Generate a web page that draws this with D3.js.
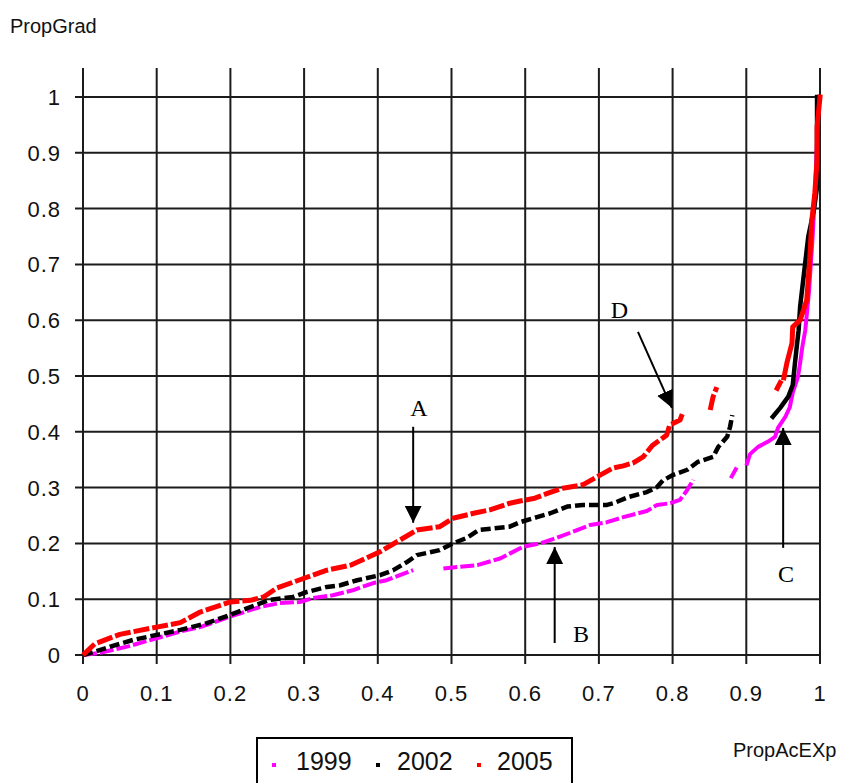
<!DOCTYPE html>
<html>
<head>
<meta charset="utf-8">
<script src="https://cdn.jsdelivr.net/npm/d3@7"></script>
<style>
  html, body { margin: 0; padding: 0; background: #fff; }
  svg { display: block; }
</style>
</head>
<body>
<svg id="chart" width="846" height="783"></svg>
<script>
// ---- Data ----
const xTicks = [0, 0.1, 0.2, 0.3, 0.4, 0.5, 0.6, 0.7, 0.8, 0.9, 1];
const yTicks = [0, 0.1, 0.2, 0.3, 0.4, 0.5, 0.6, 0.7, 0.8, 0.9, 1];
const xTickLabels = ["0", "0.1", "0.2", "0.3", "0.4", "0.5", "0.6", "0.7", "0.8", "0.9", "1"];
const yTickLabels = ["0", "0.1", "0.2", "0.3", "0.4", "0.5", "0.6", "0.7", "0.8", "0.9", "1"];
const seriesNames = ["1999", "2002", "2005"];
const seriesColors = ["#ff00ff", "#000000", "#ff0000"];

// null = gap in the plotted points
const s1999 = [[0,0],[0.023,0.004],[0.06,0.015],[0.1,0.03],[0.132,0.042],[0.159,0.05],[0.2,0.069],[0.24,0.086],[0.267,0.093],[0.294,0.095],[0.312,0.102],[0.339,0.107],[0.366,0.116],[0.394,0.129],[0.412,0.134],[0.43,0.143],[0.448,0.152],null,[0.489,0.155],[0.511,0.158],[0.535,0.161],[0.566,0.173],[0.597,0.194],[0.62,0.2],[0.643,0.21],[0.665,0.221],[0.688,0.233],[0.711,0.238],[0.733,0.247],[0.765,0.258],[0.779,0.269],[0.797,0.272],[0.81,0.278],[0.82,0.296],[0.828,0.314],null,[0.879,0.317],[0.887,0.336],[0.901,0.343],[0.905,0.36],[0.916,0.373],[0.929,0.382],[0.939,0.391],[0.943,0.407],[0.953,0.427],[0.959,0.444],[0.963,0.47],[0.97,0.498],[0.973,0.523],[0.976,0.552],[0.98,0.582],[0.985,0.65],[0.99,0.75],[0.994,0.85],[0.997,0.959],[0.998,1.0]];
const s2002 = [[0,0],[0.014,0.005],[0.037,0.015],[0.068,0.027],[0.1,0.036],[0.132,0.045],[0.168,0.057],[0.2,0.072],[0.227,0.086],[0.254,0.099],[0.285,0.104],[0.304,0.113],[0.331,0.122],[0.349,0.125],[0.372,0.134],[0.403,0.143],[0.421,0.152],[0.44,0.167],[0.453,0.179],[0.467,0.183],[0.484,0.188],[0.502,0.2],[0.521,0.21],[0.537,0.224],[0.579,0.23],[0.593,0.238],[0.616,0.247],[0.634,0.254],[0.657,0.266],[0.678,0.269],[0.711,0.269],[0.72,0.272],[0.74,0.283],[0.765,0.292],[0.779,0.301],[0.787,0.313],[0.801,0.323],[0.82,0.332],[0.834,0.346],[0.855,0.355],[0.862,0.373],[0.874,0.391],[0.878,0.409],[0.881,0.43],null,[0.936,0.427],[0.946,0.443],[0.957,0.463],[0.963,0.484],[0.966,0.523],[0.969,0.559],[0.971,0.582],[0.973,0.624],[0.984,0.749],[0.992,0.8],[0.996,0.839],[0.996,1.0]];
const s2005 = [[0,0],[0.016,0.02],[0.05,0.037],[0.1,0.05],[0.132,0.058],[0.159,0.077],[0.2,0.095],[0.227,0.098],[0.245,0.104],[0.263,0.12],[0.301,0.138],[0.331,0.152],[0.363,0.161],[0.403,0.185],[0.43,0.206],[0.453,0.224],[0.484,0.23],[0.502,0.245],[0.53,0.254],[0.552,0.26],[0.579,0.272],[0.593,0.276],[0.613,0.281],[0.631,0.29],[0.651,0.299],[0.678,0.305],[0.697,0.319],[0.719,0.335],[0.733,0.339],[0.746,0.344],[0.76,0.355],[0.773,0.376],[0.792,0.394],[0.796,0.412],[0.81,0.421],[0.814,0.435],null,[0.851,0.439],[0.855,0.463],[0.86,0.48],null,[0.942,0.478],[0.946,0.488],null,[0.951,0.497],[0.955,0.523],[0.962,0.559],[0.963,0.588],[0.973,0.6],[0.982,0.636],[0.986,0.708],[0.989,0.78],[0.993,0.828],[0.996,0.887],[0.996,0.946],[1.0,1.0]];

// annotations: label, label position, arrow tail, arrow tip (data coords)
const annLabels = ["A", "B", "C", "D"];
const annLabelPos = [[0.444,0.428],[0.665,0.023],[0.943,0.131],[0.716,0.604]];
const annTail = [[0.448,0.409],[0.640,0.0215],[0.950,0.192],[0.753,0.579]];
const annTip  = [[0.448,0.237],[0.640,0.1935],[0.950,0.407],[0.799,0.443]];

// ---- Layout ----
const svg = d3.select("#chart");
const x = d3.scaleLinear().domain([0, 1]).range([83, 820]);
const y = d3.scaleLinear().domain([0, 1.052]).range([655, 68]);
const sans = "'Liberation Sans', Arial, sans-serif";
const serif = "'Liberation Serif', 'Times New Roman', serif";
const gridColor = "#1c1c1c";

// grid
const g = svg.append("g");
g.selectAll("line.v").data(xTicks).join("line")
  .attr("x1", d => x(d)).attr("x2", d => x(d))
  .attr("y1", y.range()[1]).attr("y2", y(0) + 9)
  .attr("stroke", gridColor).attr("stroke-width", 2);
g.selectAll("line.h").data(yTicks).join("line")
  .attr("x1", x(0) - 8).attr("x2", x(1))
  .attr("y1", d => y(d)).attr("y2", d => y(d))
  .attr("stroke", gridColor).attr("stroke-width", 2);

// tick labels
g.selectAll("text.yt").data(yTicks).join("text")
  .attr("x", 61).attr("y", d => y(d)).attr("dy", "0.36em")
  .attr("text-anchor", "end").attr("font-family", sans).attr("font-size", 22)
  .attr("letter-spacing", 1)
  .attr("fill", "#111").text((d, i) => yTickLabels[i]);
g.selectAll("text.xt").data(xTicks).join("text")
  .attr("x", d => x(d)).attr("y", 701)
  .attr("text-anchor", "middle").attr("font-family", sans).attr("font-size", 22)
  .attr("letter-spacing", 1)
  .attr("fill", "#111").text((d, i) => xTickLabels[i]);

// axis titles
svg.append("text").attr("x", 10).attr("y", 33).attr("font-family", sans)
  .attr("font-size", 20).attr("fill", "#111").text("PropGrad");
svg.append("text").attr("x", 733).attr("y", 757).attr("font-family", sans)
  .attr("font-size", 20).attr("fill", "#111").text("PropAcEXp");

// series: dashed texture for the flat part, solid for the steep tail
const lowPart = d3.line().defined(d => d !== null && d[0] <= 0.9).x(d => x(d[0])).y(d => y(d[1]));
const highPart = d3.line().defined(d => d !== null && d[0] >= 0.9).x(d => x(d[0])).y(d => y(d[1]));
const allSeries = [s1999, s2002, s2005];
const widths = [4, 4.5, 5];
const dashes = ["14,3", "10,4", "16,3"];
allSeries.forEach((s, i) => {
  svg.append("path").datum(s)
    .attr("d", lowPart)
    .attr("fill", "none")
    .attr("stroke", seriesColors[i])
    .attr("stroke-width", widths[i])
    .attr("stroke-dasharray", dashes[i])
    .attr("stroke-linejoin", "round");
  svg.append("path").datum(s)
    .attr("d", highPart)
    .attr("fill", "none")
    .attr("stroke", seriesColors[i])
    .attr("stroke-width", widths[i])
    .attr("stroke-linejoin", "round")
    .attr("stroke-linecap", "square");
});

// annotations
const defs = svg.append("defs");
defs.append("marker").attr("id", "arr").attr("viewBox", "0 0 10 10")
  .attr("refX", 10).attr("refY", 5).attr("markerWidth", 8.5).attr("markerHeight", 8.5)
  .attr("markerUnits", "strokeWidth").attr("orient", "auto")
  .append("path").attr("d", "M0,0 L10,5 L0,10 Z").attr("fill", "#000");
annLabels.forEach((lab, i) => {
  svg.append("line")
    .attr("x1", x(annTail[i][0])).attr("y1", y(annTail[i][1]))
    .attr("x2", x(annTip[i][0])).attr("y2", y(annTip[i][1]))
    .attr("stroke", "#000").attr("stroke-width", 2)
    .attr("marker-end", "url(#arr)");
  svg.append("text")
    .attr("x", x(annLabelPos[i][0])).attr("y", y(annLabelPos[i][1]))
    .attr("font-family", serif).attr("font-size", 24).attr("fill", "#000")
    .text(lab);
});

// legend
const leg = svg.append("g");
leg.append("rect").attr("x", 257).attr("y", 738).attr("width", 315).attr("height", 60)
  .attr("fill", "#fff").attr("stroke", "#000").attr("stroke-width", 2);
const legMarkX = [274, 378, 479];
const legTextX = [296, 397, 497];
seriesNames.forEach((n, i) => {
  leg.append("rect").attr("x", legMarkX[i] - 2).attr("y", 763).attr("width", 4).attr("height", 4)
    .attr("fill", seriesColors[i]);
  leg.append("text").attr("x", legTextX[i]).attr("y", 770)
    .attr("font-family", sans).attr("font-size", 25).attr("fill", "#111").text(n);
});
</script>
</body>
</html>
